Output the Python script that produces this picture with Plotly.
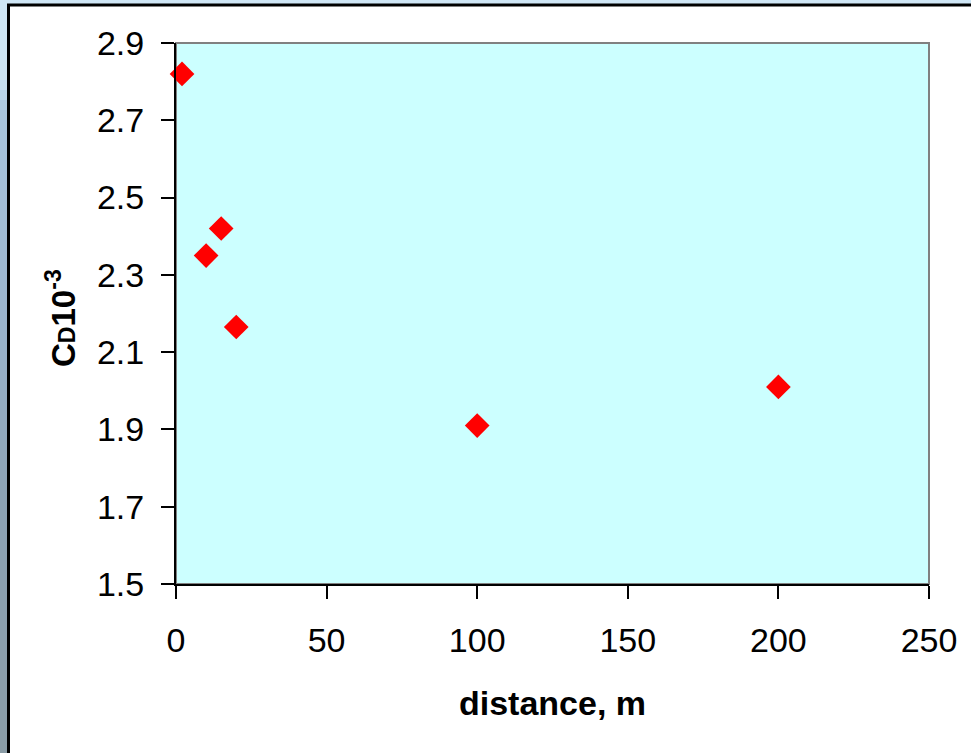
import plotly.graph_objects as go

# Drag coefficient measurements against distance
distance_m = [2, 10, 15, 20, 100, 200]
cd_e3 = [2.82, 2.35, 2.42, 2.165, 1.91, 2.01]

x_ticks = [0, 50, 100, 150, 200, 250]
y_ticks = [1.5, 1.7, 1.9, 2.1, 2.3, 2.5, 2.7, 2.9]

FONT = "Liberation Sans, Arial, sans-serif"
W, H = 971, 753
M_L, M_R, M_T, M_B = 176, 42, 43, 169

fig = go.Figure()
fig.add_trace(go.Scatter(
    x=distance_m, y=cd_e3, mode="markers",
    marker=dict(symbol="diamond", size=19, color="#ff0000", line=dict(width=0)),
    cliponaxis=False, showlegend=False,
))

shapes = []
# gray frame on top and right of the plotting area
shapes.append(dict(type="rect", xref="paper", yref="paper", x0=0, x1=1, y0=0, y1=1,
                   line=dict(color="#808080", width=2), fillcolor="rgba(0,0,0,0)", layer="below"))

# slide background strip along the left edge (vertical colour ramp)
ramp = [(0, (207, 230, 245)), (80, (205, 228, 243)), (110, (168, 196, 220)),
        (300, (156, 182, 207)), (500, (140, 162, 180)), (753, (138, 156, 166))]
def colour_at(py):
    for (a, ca), (b, cb) in zip(ramp[:-1], ramp[1:]):
        if a <= py <= b:
            t = (py - a) / (b - a) if b > a else 0
            return tuple(round(ca[i] + (cb[i] - ca[i]) * t) for i in range(3))
    return ramp[-1][1]

step = 10
for py in range(0, H, step):
    c = colour_at(py + step / 2)
    shapes.append(dict(type="rect", xref="paper", yref="paper",
                       xsizemode="pixel", ysizemode="pixel", xanchor=0, yanchor=1,
                       x0=-M_L, x1=-M_L + 8, y0=M_T - py, y1=M_T - py - step - 1,
                       line=dict(width=0), fillcolor="rgb(%d,%d,%d)" % c, layer="above"))
# top strip
shapes.append(dict(type="rect", xref="paper", yref="paper",
                   xsizemode="pixel", ysizemode="pixel", xanchor=0, yanchor=1,
                   x0=-M_L, x1=W - M_L, y0=M_T, y1=M_T - 4,
                   line=dict(width=0), fillcolor="rgb(207,230,245)", layer="above"))
# black frame lines of the white panel
shapes.append(dict(type="line", xref="paper", yref="paper",
                   xsizemode="pixel", ysizemode="pixel", xanchor=0, yanchor=1,
                   x0=-M_L + 7, x1=W - M_L, y0=M_T - 5, y1=M_T - 5,
                   line=dict(color="black", width=3), layer="above"))
shapes.append(dict(type="line", xref="paper", yref="paper",
                   xsizemode="pixel", ysizemode="pixel", xanchor=0, yanchor=1,
                   x0=-M_L + 8.5, x1=-M_L + 8.5, y0=M_T - 4, y1=M_T - H,
                   line=dict(color="black", width=3), layer="above"))

annotations = [
    dict(text="<b>distance, m</b>", xref="paper", yref="paper",
         x=0.5, y=-(703 - (H - M_B)) / (H - M_T - M_B), xanchor="center", yanchor="middle",
         showarrow=False, font=dict(family=FONT, size=34, color="black")),
    dict(text="<b>C<span style=\"font-size:23px\">D</span>10<sup>-3</sup></b>",
         xref="paper", yref="paper", textangle=-90,
         x=-(M_L - 61) / (W - M_L - M_R), y=(H - M_B - 318) / (H - M_T - M_B),
         xanchor="center", yanchor="middle",
         showarrow=False, font=dict(family=FONT, size=33, color="black")),
]

fig.update_layout(
    width=W, height=H,
    margin=dict(l=M_L, r=M_R, t=M_T, b=M_B, autoexpand=False),
    paper_bgcolor="white", plot_bgcolor="#ccffff",
    font=dict(family=FONT, color="black"),
    shapes=shapes, annotations=annotations,
    xaxis=dict(range=[0, 250], tickvals=x_ticks, ticktext=[str(v) for v in x_ticks],
               showgrid=False, zeroline=False, showline=True, linecolor="black", linewidth=2,
               ticks="outside", ticklen=13, tickwidth=2, tickcolor="black",
               tickfont=dict(family=FONT, size=34), ticklabelstandoff=12, automargin=False),
    yaxis=dict(range=[1.5, 2.9], tickvals=y_ticks, ticktext=["%.1f" % v for v in y_ticks],
               showgrid=False, zeroline=False, showline=True, linecolor="black", linewidth=2,
               ticks="outside", ticklen=13, tickwidth=2, tickcolor="black",
               tickfont=dict(family=FONT, size=34), ticklabelstandoff=10, automargin=False),
)

fig.write_html("out.html")
